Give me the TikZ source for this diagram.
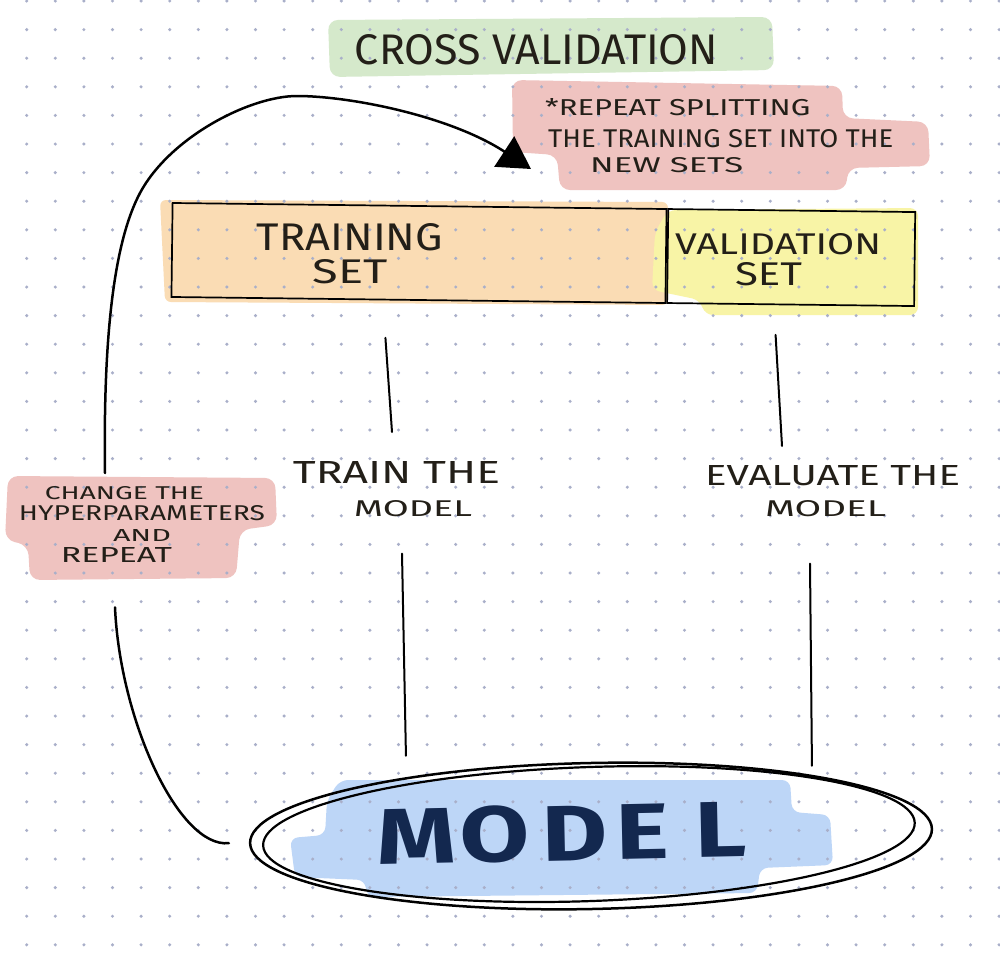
\documentclass[tikz,border=0pt]{standalone}
\usepackage{fontspec}
\setmainfont{Fira Sans}
\usetikzlibrary{arrows.meta,calc,shapes.geometric}
\definecolor{dotc}{HTML}{A9AFC9}
\definecolor{hlgreen}{HTML}{D5E9CB}
\definecolor{hlpink}{HTML}{EFC3C0}
\definecolor{hlpeach}{HTML}{FADCB4}
\definecolor{hlyellow}{HTML}{F8F4A6}
\definecolor{hlblue}{HTML}{BDD6F7}
\definecolor{ink}{HTML}{231F18}
\definecolor{navy}{HTML}{13284F}
\newcommand\fitt[3]{\resizebox{#1pt}{#2pt}{#3}}
\begin{document}
\begin{tikzpicture}[x=1pt,y=-1pt,
  txt/.style={inner sep=0pt, text=ink, align=center},
  conn/.style={line width=2pt, draw=black, line cap=round},
  curve/.style={line width=2.5pt, draw=black, line cap=round},
  hl/.style={rounded corners=10pt},
  setbox/.style={draw=black, line width=1.7pt, inner sep=0pt, minimum height=94pt, rotate=-0.7}]
\useasboundingbox (0,0) rectangle (1000,964);
\fill[white] (0,0) rectangle (1000,964);
% highlights
\fill[hlgreen, hl] (328,20) -- (772,17) -- (774,70) -- (330,77) -- cycle;
\fill[hlpink, hl] (512,80) -- (842,86) -- (843,118) -- (928,122) -- (930,166) -- (848,168) -- (846,190) -- (560,190) -- (557,155) -- (513,152) -- cycle;
\fill[hlpeach, rounded corners=6pt] (160,200) -- (668,202) -- (668,305) -- (165,302) -- cycle;
\fill[hlyellow, rounded corners=8pt] (655,232) -- (668,210) -- (918,208) -- (918,315) -- (705,315) -- (700,300) -- (652,290) -- cycle;
\fill[hlpink, hl] (8,476) -- (275,478) -- (277,525) -- (240,530) -- (236,578) -- (30,580) -- (28,545) -- (5,540) -- cycle;
\fill[hlblue, rounded corners=8pt] (340,780) -- (790,780) -- (792,812) -- (830,815) -- (833,865) -- (760,868) -- (757,893) -- (367,897) -- (365,880) -- (295,877) -- (290,838) -- (325,835) -- (327,800) -- cycle;
% dot grid
\foreach \i in {0,...,34}{\foreach \j in {0,...,33}{\fill[dotc] (26.7+28.6*\i,1+28.6*\j) circle (1.7pt);}}
% texts
\node[txt] (title) at (536.5,50) {\fitt{363}{30}{CROSS VALIDATION}};
\node[txt, align=left, anchor=north west, font=\fontsize{10}{28}\selectfont] (note) at (545,98)
  {\fitt{265}{17}{*REPEAT SPLITTING}\\[4pt]
   \hspace*{3pt}\fitt{345}{18}{THE TRAINING SET INTO THE}\\[-3pt]
   \hspace*{45pt}\fitt{153}{15}{NEW SETS}};
\coordinate (tip) at ($(note.north west)+(-14,71)$);
% set boxes
\node[setbox, minimum width=494pt] (trainset) at (419,253) {};
\node[setbox, minimum width=247pt, anchor=west] (valset) at (trainset.east) {};
\node[txt, anchor=north, font=\fontsize{10}{33}\selectfont] (trainsettxt) at (350,223)
  {\fitt{186}{27}{TRAINING}\\ \fitt{75}{24}{SET}};
\node[txt, anchor=north, font=\fontsize{10}{31}\selectfont] (valsettxt) at (778,233)
  {\fitt{206}{21}{VALIDATION}\\ \fitt{67}{23}{SET}\hspace*{19pt}};
% step labels
\node[txt, anchor=north, font=\fontsize{10}{33}\selectfont] (trainlbl) at (396.5,461)
  {\fitt{207}{22}{TRAIN THE}\\ \hspace*{33pt}\fitt{118}{16}{MODEL}};
\node[txt, anchor=north, font=\fontsize{10}{31}\selectfont] (vallbl) at (832.5,465)
  {\fitt{255}{20}{EVALUATE THE}\\ \fitt{121}{16}{MODEL}\hspace*{14pt}};
\node[txt, anchor=north, font=\fontsize{10}{21}\selectfont] (change) at (142,486)
  {\fitt{159}{13}{CHANGE THE}\hspace*{35pt}\\
   \fitt{246}{15}{HYPERPARAMETERS}\\
   \fitt{58}{12}{AND}\hspace*{48pt}\\
   \fitt{111}{15}{REPEAT}\hspace*{51pt}};
% model
\node[draw=black, ellipse, line width=2.5pt, minimum width=682pt, minimum height=146pt, inner sep=0pt,
  rotate=1.2, text=navy, font=\bfseries] (model) at (591,836)
  {\rule[-8pt]{0pt}{8pt}\fitt{370}{56}{M\kern0.04em O\kern0.12em D\kern0.08em E\kern0.26em L}\hspace*{58pt}};
\draw[line width=2.2pt, rotate around={2:(model.center)}] ($(model.center)+(-2,-2)$) ellipse [x radius=326pt, y radius=67pt];
% connectors
\draw[conn] ($(trainset.south)+(-33,37)$) -- ($(trainlbl.north)+(-4.5,-29)$);
\draw[conn] ($(trainlbl.south)+(5.5,37)$) -- ($(model.north)+(-183.5,-6)$);
\draw[conn] ($(valset.south)+(-15,29.5)$) -- ($(vallbl.north)+(-50.5,-19)$);
\draw[conn] ($(vallbl.south)+(-22.5,47)$) -- ($(model.north)+(222.5,4)$);
\draw[curve] ($(model.west)+(-20,0)$) .. controls +(-50,5) and +(5,113) .. ($(change.south)+(-27,45)$);
\draw[curve, -{Triangle[width=36pt,length=32pt]}] ($(change.north)+(-37,-13)$)
  .. controls (103,330) and (115,240) .. (140,193)
  .. controls (170,137) and (250,96) .. (297,96)
  .. controls (350,96) and (450,116) .. (tip);
\end{tikzpicture}
\end{document}
